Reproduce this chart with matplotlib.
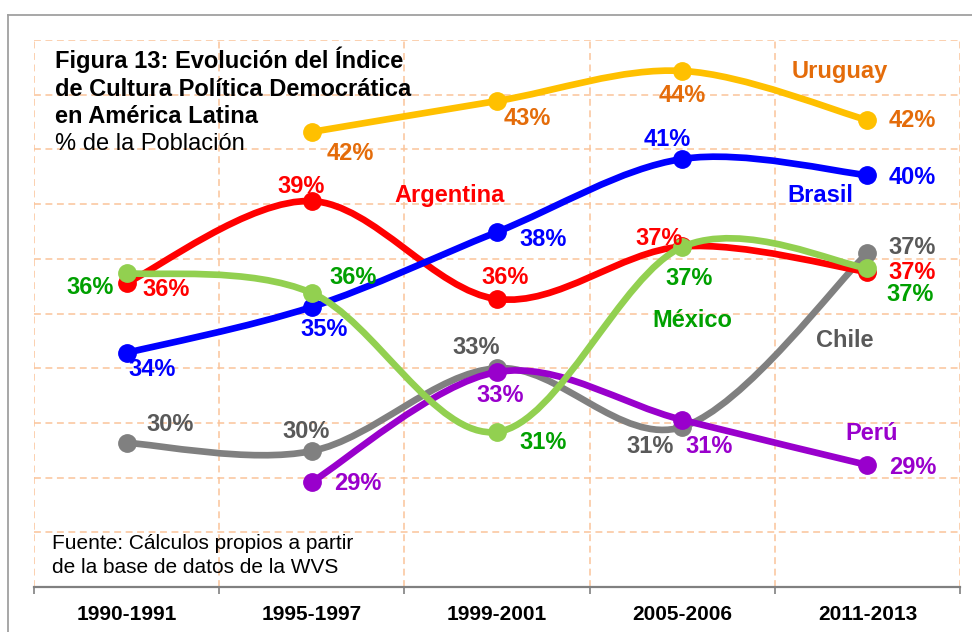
import matplotlib
matplotlib.use("Agg")
import matplotlib.pyplot as plt
from matplotlib.path import Path
from matplotlib.patches import PathPatch
from matplotlib.lines import Line2D
import numpy as np

plt.rcParams['font.family'] = ['Liberation Sans', 'DejaVu Sans']

# ---------------- data ----------------
periods = ["1990-1991", "1995-1997", "1999-2001", "2005-2006", "2011-2013"]

uruguay   = [None, 41.64, 42.77, 43.87, 42.07]
brasil    = [33.56, 35.24, 37.98, 40.65, 40.06]
argentina = [36.12, 39.11, 35.53, 37.45, 36.52]
mexico    = [36.48, 35.75, 30.67, 37.43, 36.66]
chile     = [30.27, 29.97, 33.00, 30.85, 37.21]
peru      = [None, 28.84, 32.86, 31.11, 29.46]

names = ["Chile", "Argentina", "Brasil", "Perú", "México", "Uruguay"]
series_values = [chile, argentina, brasil, peru, mexico, uruguay]

# ---------------- styles ----------------
line_colors = {"Uruguay": "#FFC000", "Brasil": "#0000FF", "Argentina": "#FF0000",
               "México": "#92D050", "Chile": "#808080", "Perú": "#9900CC"}
text_colors = {"Uruguay": "#E46C0A", "Brasil": "#0000FF", "Argentina": "#FF0000",
               "México": "#00A000", "Chile": "#595959", "Perú": "#9900CC"}

# label offsets in pixels (dx right, dy down) for each point
label_offsets = {
    "Uruguay":   [None, (39, 22), (30, 18), (0, 25), (45, 0)],
    "Brasil":    [(26, 17), (12, 23), (46, 8), (-15, -19), (45, 2)],
    "Argentina": [(40, 7), (-11, -15), (8, -22), (-23, -8), (45, 1)],
    "México":    [(-36, 14), (41, -15), (46, 11), (7, 31), (43, 26)],
    "Chile":     [(44, -18), (-6, -20), (-21, -21), (-32, 19), (45, -6)],
    "Perú":      [None, (46, 2), (3, 23), (27, 27), (45, 2)],
}
# series name positions (data coords)
name_pos = {"Uruguay": (3.85, 43.83), "Argentina": (1.746, 39.30), "Brasil": (3.744, 39.30),
            "México": (3.053, 34.73), "Chile": (3.879, 34.03), "Perú": (4.025, 30.63)}

W, H, DPI = 972, 632, 100
fig = plt.figure(figsize=(W / DPI, H / DPI), dpi=DPI)
ax = fig.add_axes([34 / W, 1 - 587 / H, (960 - 34) / W, (587 - 40) / H])

ax.set_xlim(-0.5, len(periods) - 0.5)
ax.set_ylim(25, 45)

grid_col = "#FAC49A"
for yv in np.arange(27, 45.01, 2):
    ax.axhline(yv, color=grid_col, lw=1.1, ls=(0, (4.5, 3)), zorder=0)
for xv in np.arange(-0.5, len(periods), 1.0):
    ax.axvline(xv, color=grid_col, lw=1.1, ls=(0, (4.5, 3)), zorder=0)

for s in ["top", "right", "left"]:
    ax.spines[s].set_visible(False)
ax.spines["bottom"].set_color("#808080")
ax.spines["bottom"].set_linewidth(1.6)
ax.set_yticks([])
ax.set_xticks(range(len(periods)))
ax.set_xticklabels(periods, fontsize=15, fontweight="bold")
ax.tick_params(axis="x", which="major", length=0, pad=13)
ax.set_xticks(np.arange(-0.5, len(periods), 1.0), minor=True)
ax.tick_params(axis="x", which="minor", length=5, color="#808080", width=1.2)


def smooth_path(xs, ys):
    pts = np.column_stack([xs, ys])
    n = len(pts)
    verts = [pts[0]]
    codes = [Path.MOVETO]
    for i in range(n - 1):
        p0 = pts[i - 1] if i > 0 else pts[i]
        p1 = pts[i]
        p2 = pts[i + 1]
        p3 = pts[i + 2] if i + 2 < n else pts[i + 1]
        c1 = p1 + (p2 - p0) / 6.0
        c2 = p2 - (p3 - p1) / 6.0
        verts += [c1, c2, p2]
        codes += [Path.CURVE4] * 3
    return Path(verts, codes)


for z, (name, vals) in enumerate(zip(names, series_values)):
    xs = [i for i, v in enumerate(vals) if v is not None]
    ys = [v for v in vals if v is not None]
    col = line_colors[name]
    patch = PathPatch(smooth_path(xs, ys), facecolor="none", edgecolor=col,
                      lw=4.8, capstyle="round", joinstyle="round", zorder=3 + z)
    ax.add_patch(patch)
    ax.plot(xs, ys, ls="none", marker="o", ms=12.5, color=col, zorder=3 + z)
    for i, v in enumerate(vals):
        if v is None:
            continue
        dx, dy = label_offsets[name][i]
        ax.annotate(f"{round(v)}%", (i, v), xytext=(dx * 0.72, -dy * 0.72),
                    textcoords="offset points", ha="center", va="center",
                    fontsize=17, fontweight="bold", color=text_colors[name], zorder=20)
    nx, ny = name_pos[name]
    ax.text(nx, ny, name, ha="center", va="center", fontsize=17, fontweight="bold",
            color=text_colors[name], zorder=20)

# title block
fs_t = 17
fig.text(55 / W, 1 - 68 / H, "Figura 13: Evolución del Índice", fontsize=fs_t,
         fontweight="bold", va="baseline", ha="left")
fig.text(55 / W, 1 - 96 / H, "de Cultura Política Democrática", fontsize=fs_t,
         fontweight="bold", va="baseline", ha="left")
fig.text(55 / W, 1 - 123 / H, "en América Latina", fontsize=fs_t,
         fontweight="bold", va="baseline", ha="left")
fig.text(55 / W, 1 - 150 / H, "% de la Población", fontsize=fs_t,
         va="baseline", ha="left")

fig.text(52 / W, 1 - 549 / H, "Fuente: Cálculos propios a partir", fontsize=15,
         va="baseline", ha="left")
fig.text(52 / W, 1 - 573 / H, "de la base de datos de la WVS", fontsize=15,
         va="baseline", ha="left")

# outer border
fig.add_artist(Line2D([8 / W, 8 / W], [0, 1 - 15 / H], transform=fig.transFigure,
                      color="#A0A0A0", lw=1.3))
fig.add_artist(Line2D([8 / W, 1], [1 - 15 / H, 1 - 15 / H], transform=fig.transFigure,
                      color="#A0A0A0", lw=1.3))

fig.savefig("out.png", dpi=DPI)
